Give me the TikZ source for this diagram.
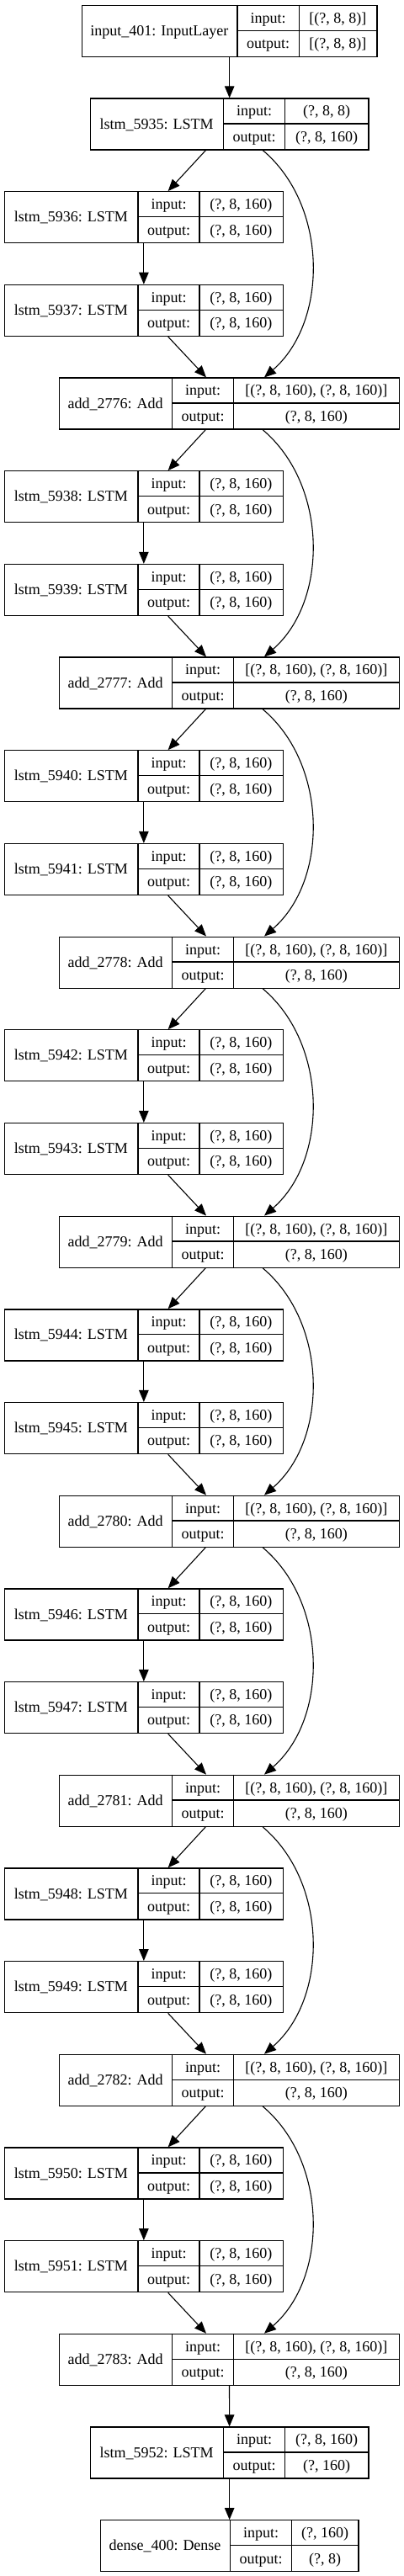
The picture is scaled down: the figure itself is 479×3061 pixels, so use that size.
\documentclass[tikz,border=0pt]{standalone}
\usepackage{fontspec}
\setmainfont{Liberation Serif}
\usetikzlibrary{arrows.meta}
\tikzset{
  box/.style={draw=black, line width=1.3pt, inner sep=0pt, minimum height=61pt, anchor=north west},
  cell/.style={inner sep=0pt, text height=16.5pt, text depth=4pt, font=\fontsize{18}{20}\selectfont},
  sep/.style={draw=black, line width=1.3pt},
  edge/.style={draw=black, line width=1.1pt, -{Triangle[length=14pt,width=11.5pt]}}
}
\newcommand\rec[9]{%
  \pgfmathsetmacro\rTop{5.7+110.68*#2}%
  \pgfmathsetmacro\rBot{\rTop+61}%
  \pgfmathsetmacro\rMid{\rTop+30.5}%
  \pgfmathsetmacro\rUp{\rTop+15.25}%
  \pgfmathsetmacro\rLo{\rTop+45.75}%
  \pgfmathsetmacro\rW{#6-#3}%
  \node[box, minimum width=\rW pt] (#1) at (#3,\rTop) {};
  \draw[sep] (#4,\rTop) -- (#4,\rBot);
  \draw[sep] (#5,\rTop) -- (#5,\rBot);
  \draw[sep] (#4,\rMid) -- (#6,\rMid);
  \node[cell] (#1-n) at ({(#3+#4)/2},\rMid) {#7};
  \node[cell] (#1-il) at ({(#4+#5)/2},\rUp) {input:};
  \node[cell] (#1-ol) at ({(#4+#5)/2},\rLo) {output:};
  \node[cell] (#1-iv) at ({(#5+#6)/2},\rUp) {#8};
  \node[cell] (#1-ov) at ({(#5+#6)/2},\rLo) {#9};
}
\begin{document}
\begin{tikzpicture}[x=1pt,y=-1pt]
\useasboundingbox (0,0) rectangle (479,3061);
\rec{inp}{0}{96.7}{282}{355.3}{447.3}{input\_401: InputLayer}{[(?, 8, 8)]}{[(?, 8, 8)]}
\rec{l5935}{1}{106.7}{265.7}{338.7}{437.3}{lstm\_5935: LSTM}{(?, 8, 8)}{(?, 8, 160)}
\draw[edge] (inp.south) -- (l5935.north);
\foreach \b in {0,...,7}{
  \pgfmathtruncatemacro\na{5936+2*\b}
  \pgfmathtruncatemacro\nb{5937+2*\b}
  \pgfmathtruncatemacro\nc{2776+\b}
  \pgfmathtruncatemacro\pc{2775+\b}
  \pgfmathtruncatemacro\lv{2+3*\b}
  \pgfmathtruncatemacro\lw{3+3*\b}
  \pgfmathtruncatemacro\lx{4+3*\b}
  \ifnum\b=0 \def\prev{l5935}\else\edef\prev{a\pc}\fi
  \rec{l\na}{\lv}{4.7}{164}{237}{335.7}{lstm\_\na: LSTM}{(?, 8, 160)}{(?, 8, 160)}
  \rec{l\nb}{\lw}{4.7}{164}{237}{335.7}{lstm\_\nb: LSTM}{(?, 8, 160)}{(?, 8, 160)}
  \rec{a\nc}{\lx}{69.7}{204.7}{277.7}{474}{add\_\nc: Add}{[(?, 8, 160), (?, 8, 160)]}{(?, 8, 160)}
  \draw[edge] ([xshift=-28.3pt]\prev.south) -- ([xshift=28.8pt]l\na.north);
  \draw[edge] (l\na.south) -- (l\nb.north);
  \draw[edge] ([xshift=28.8pt]l\nb.south) -- ([xshift=-27.5pt]a\nc.north);
  \draw[edge] ([xshift=39.7pt]\prev.south) .. controls +(78,66) and +(76,-66) .. ([xshift=41.5pt]a\nc.north);
}
\rec{l5952}{26}{106.7}{265.7}{338.7}{437.3}{lstm\_5952: LSTM}{(?, 8, 160)}{(?, 160)}
\rec{d400}{27}{118.7}{273.3}{346.7}{425.3}{dense\_400: Dense}{(?, 160)}{(?, 8)}
\draw[edge] (a2783.south) -- (l5952.north);
\draw[edge] (l5952.south) -- (d400.north);
\end{tikzpicture}
\end{document}
